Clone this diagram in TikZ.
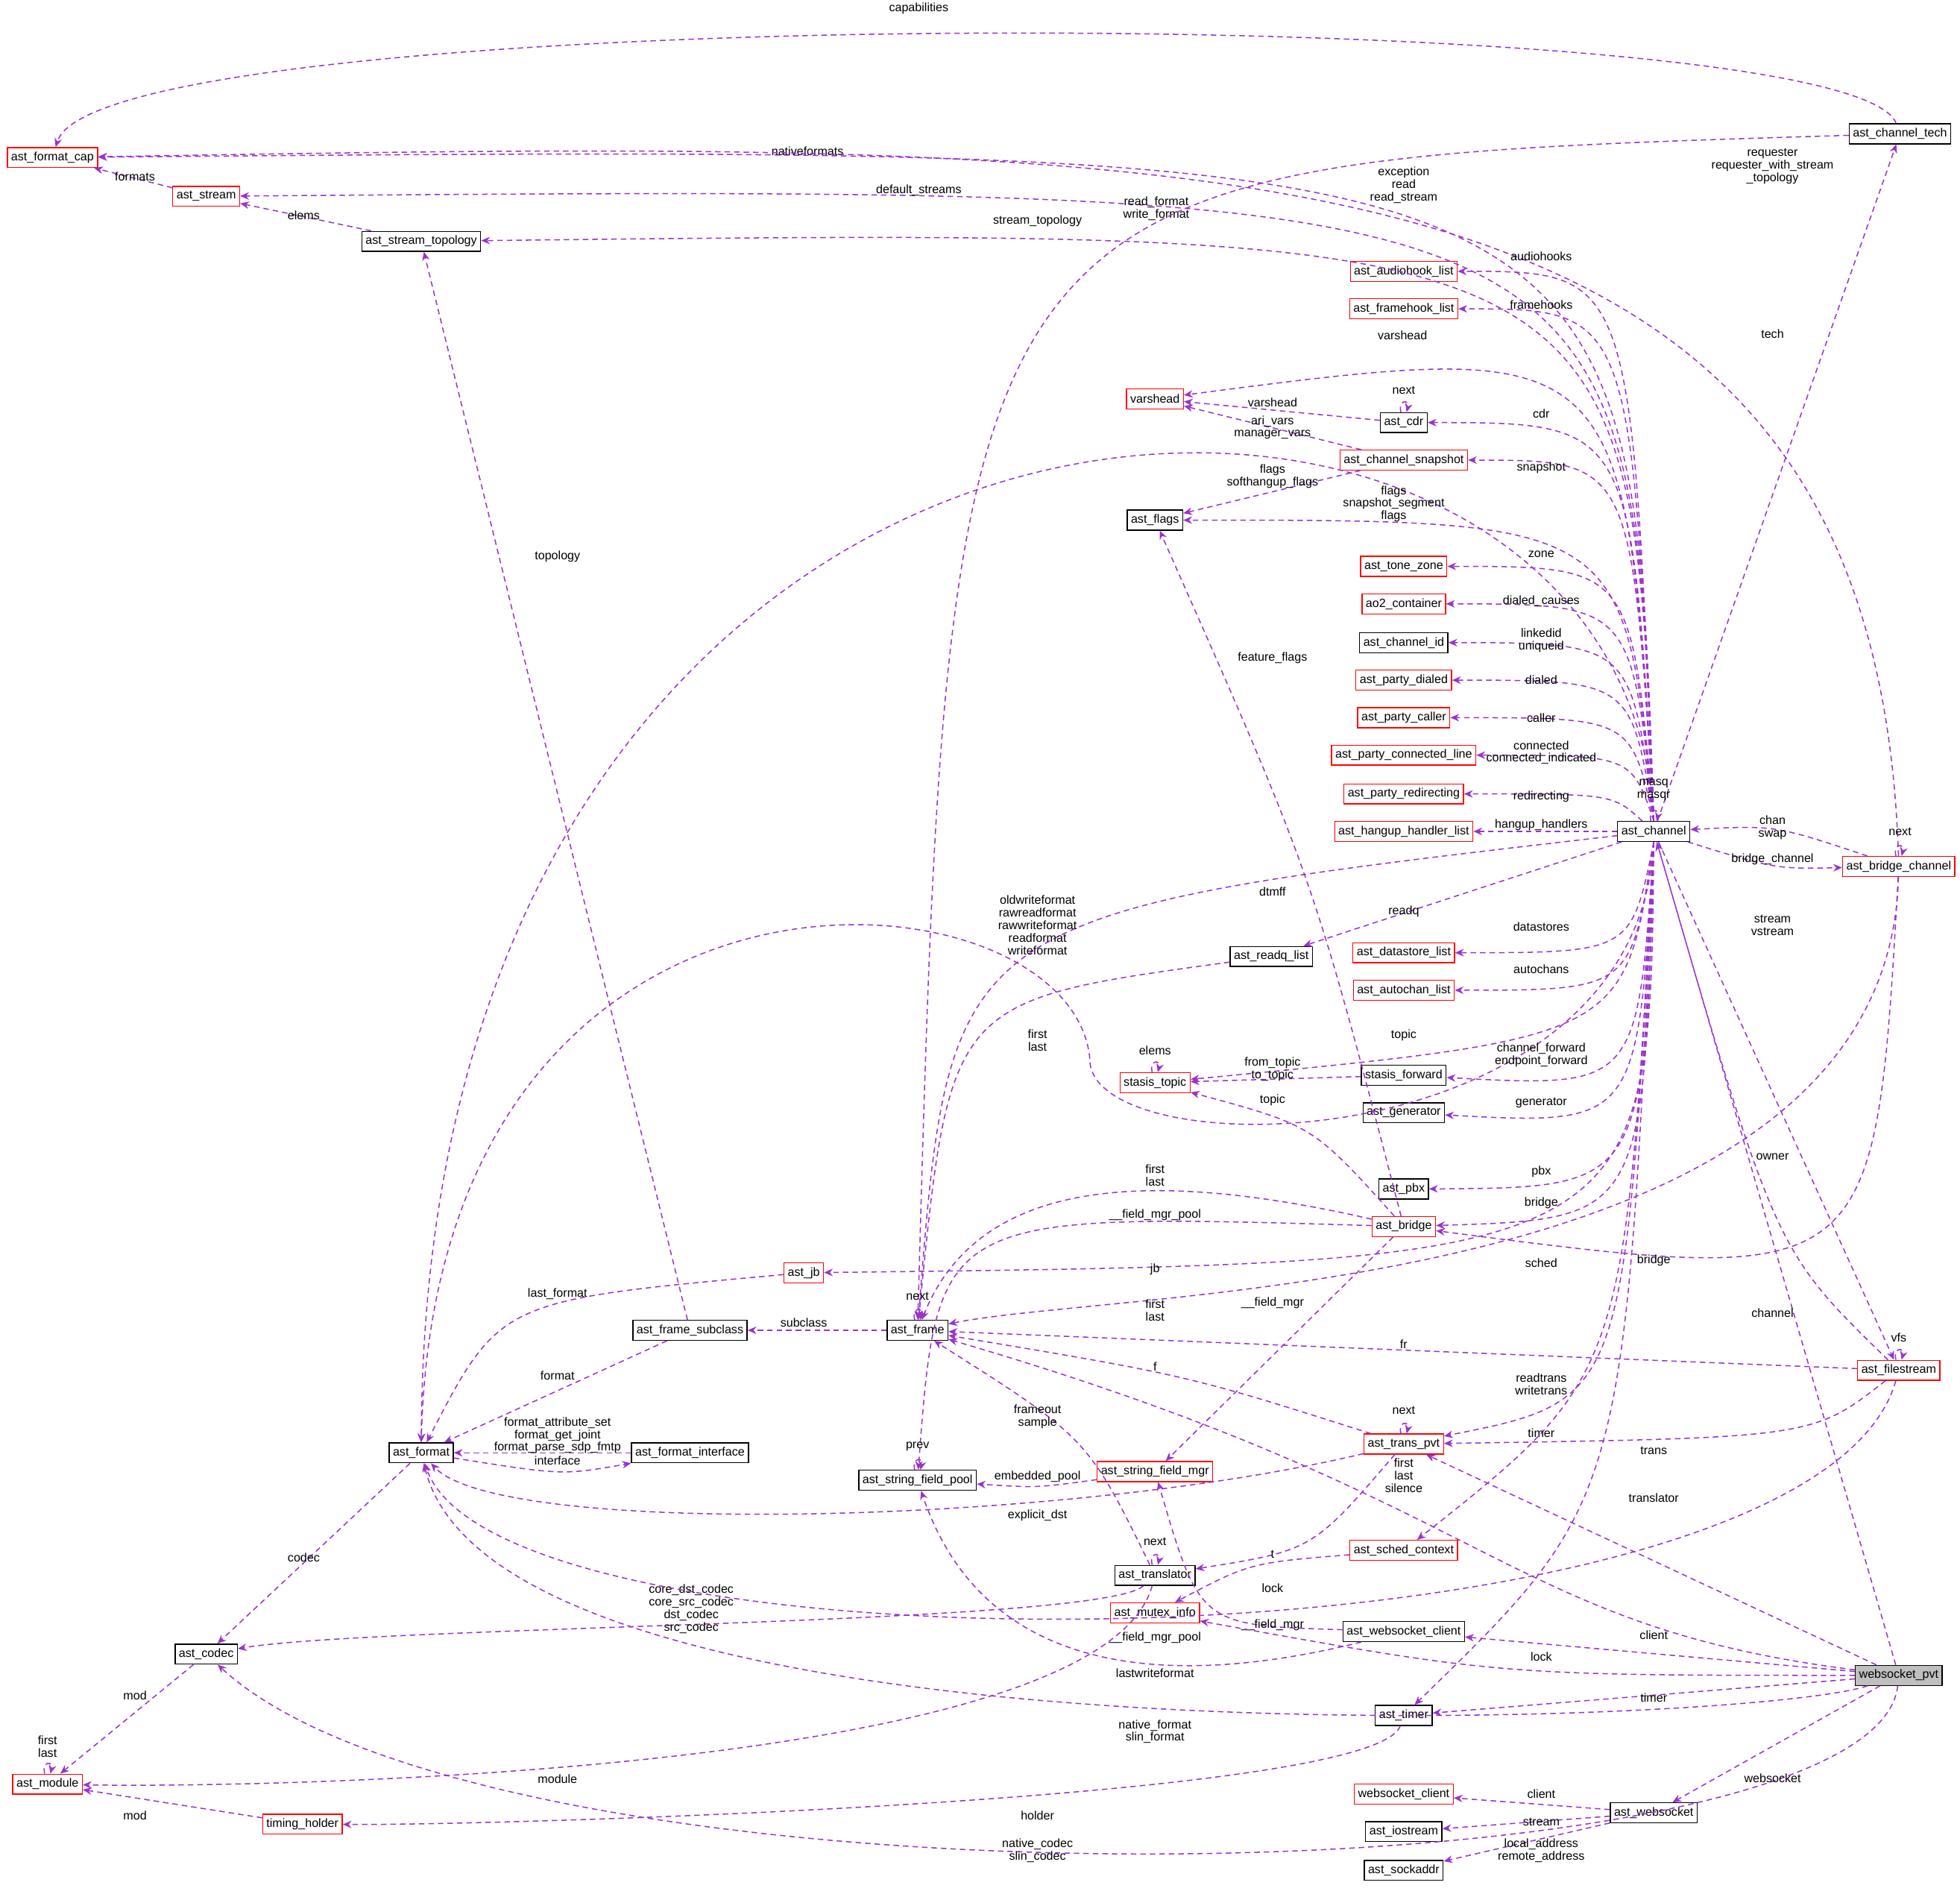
\documentclass[tikz,border=0pt]{standalone}
\usepackage{fontspec}
\setmainfont{Liberation Sans}
\usetikzlibrary{arrows.meta}
\definecolor{edgecol}{HTML}{9A32CD}
\tikzset{
  box/.style={draw=black, fill=white, inner sep=1.5pt, minimum height=8pt, font=\fontsize{4.8}{5.2}\selectfont},
  redbox/.style={box, draw=red},
  mainbox/.style={box, fill=black!25},
  edge/.style={draw=edgecol, dashed, dash pattern=on 2.2pt off 1.6pt, line width=0.45pt, -{Stealth[length=3.5pt,width=3pt]}},
  lbl/.style={align=center, inner sep=0pt, font=\fontsize{4.8}{5}\selectfont},
}
\newcommand\lab[2]{\node[lbl] at (#1) {#2};}
\begin{document}
\begin{tikzpicture}[x=0.5pt, y=-0.5pt]
\useasboundingbox (0,0) rectangle (1568,1517);
% nodes
\node[redbox] (fmtCap) at (42,126) {ast\_format\_cap};
\node[redbox] (stream) at (165,157) {ast\_stream};
\node[box] (streamTopo) at (337,193) {ast\_stream\_topology};
\node[box] (chanTech) at (1520,107) {ast\_channel\_tech};
\node[redbox] (audiohook) at (1123,217) {ast\_audiohook\_list};
\node[redbox] (framehook) at (1123,247) {ast\_framehook\_list};
\node[redbox] (varshead) at (924,319) {varshead};
\node[box] (cdr) at (1123,338) {ast\_cdr};
\node[redbox] (snapshot) at (1123,368) {ast\_channel\_snapshot};
\node[box] (flags) at (924,416) {ast\_flags};
\node[redbox] (toneZone) at (1123,453) {ast\_tone\_zone};
\node[redbox] (ao2) at (1123,483) {ao2\_container};
\node[box] (chanId) at (1123,514) {ast\_channel\_id};
\node[redbox] (dialed) at (1123,544) {ast\_party\_dialed};
\node[redbox] (caller) at (1123,574) {ast\_party\_caller};
\node[redbox] (connLine) at (1123,604) {ast\_party\_connected\_line};
\node[redbox] (redir) at (1123,635) {ast\_party\_redirecting};
\node[redbox] (hangup) at (1123,665) {ast\_hangup\_handler\_list};
\node[box] (chan) at (1323,665) {ast\_channel};
\node[redbox] (bridgeChan) at (1519,693) {ast\_bridge\_channel};
\node[box] (readq) at (1017,765) {ast\_readq\_list};
\node[redbox] (datastore) at (1123,762) {ast\_datastore\_list};
\node[redbox] (autochan) at (1123,792) {ast\_autochan\_list};
\node[redbox] (topic) at (924,866) {stasis\_topic};
\node[box] (forward) at (1123,860) {stasis\_forward};
\node[box] (generator) at (1123,890) {ast\_generator};
\node[box] (pbx) at (1123,951) {ast\_pbx};
\node[redbox] (bridge) at (1123,981) {ast\_bridge};
\node[redbox] (jb) at (643,1018) {ast\_jb};
\node[box] (frameSub) at (552,1064) {ast\_frame\_subclass};
\node[box] (frame) at (734,1064) {ast\_frame};
\node[redbox] (filestream) at (1519,1096) {ast\_filestream};
\node[box] (format) at (337,1162) {ast\_format};
\node[box] (fmtIface) at (552,1162) {ast\_format\_interface};
\node[redbox] (transPvt) at (1123,1155) {ast\_trans\_pvt};
\node[box] (sfPool) at (734,1184) {ast\_string\_field\_pool};
\node[redbox] (sfMgr) at (924,1177) {ast\_string\_field\_mgr};
\node[redbox] (sched) at (1123,1240) {ast\_sched\_context};
\node[box] (translator) at (924,1260) {ast\_translator};
\node[redbox] (mutex) at (924,1290) {ast\_mutex\_info};
\node[box] (wsClient) at (1123,1305) {ast\_websocket\_client};
\node[box] (codec) at (165,1323) {ast\_codec};
\node[mainbox] (wsPvt) at (1519,1340) {websocket\_pvt};
\node[box] (timer) at (1123,1372) {ast\_timer};
\node[redbox] (module) at (38,1427) {ast\_module};
\node[redbox] (timing) at (242,1459) {timing\_holder};
\node[redbox] (wsCli2) at (1123,1435) {websocket\_client};
\node[box] (websocket) at (1323,1450) {ast\_websocket};
\node[box] (iostream) at (1123,1465) {ast\_iostream};
\node[box] (sockaddr) at (1123,1496) {ast\_sockaddr};
% edges
\draw[edge] (chanTech) .. controls (1480,0) and (80,0) .. (fmtCap); \lab{735,7}{capabilities}
\draw[edge] (chan.north) .. controls (1305,115) .. (fmtCap); \lab{646,121}{nativeformats}
\draw[edge] (chan.north) .. controls (1305,148) .. (stream); \lab{735,152}{default\_streams}
\draw[edge] (stream) -- (fmtCap); \lab{108,141}{formats}
\draw[edge] (streamTopo) -- (stream); \lab{243,172}{elems}
\draw[edge] (chan.north) .. controls (1305,182) .. (streamTopo); \lab{830,177}{stream\_topology}
\draw[edge] (chan.north) .. controls (1300,200) and (340,210) .. (format); \lab{925,167}{read\_format\\write\_format}
\draw[edge] (chanTech) .. controls (760,130) .. (frame); \lab{1123,148}{exception\\read\\read\_stream}
\draw[edge] (chan) -- (chanTech); \lab{1418,267}{tech}
\draw[edge] (bridgeChan) .. controls (1500,100) and (1000,110) .. (fmtCap); \lab{1418,133}{requester\\requester\_with\_stream\\\_topology}
\draw[edge] (chan.north) .. controls (1305,217) .. (audiohook); \lab{1233,205}{audiohooks}
\draw[edge] (chan.north) .. controls (1305,247) .. (framehook); \lab{1233,244}{framehooks}
\draw[edge] (chan.north) .. controls (1300,270) .. (varshead); \lab{1122,268}{varshead}
\draw[edge] (cdr) -- (varshead); \lab{1018,322}{varshead}
\draw[edge] (cdr) to[loop above, looseness=6] (cdr); \lab{1123,312}{next}
\draw[edge] (chan.north) .. controls (1305,338) .. (cdr); \lab{1233,331}{cdr}
\draw[edge] (snapshot) -- (varshead); \lab{1018,342}{ari\_vars\\manager\_vars}
\draw[edge] (snapshot) -- (flags); \lab{1018,381}{flags\\softhangup\_flags}
\draw[edge] (chan.north) .. controls (1305,368) .. (snapshot); \lab{1233,374}{snapshot}
\draw[edge] (chan.north) .. controls (1300,416) .. (flags); \lab{1115,403}{flags\\snapshot\_segment\\flags}
\draw[edge] (chan.north) .. controls (1305,453) .. (toneZone); \lab{1233,443}{zone}
\draw[edge] (chan.north) .. controls (1305,483) .. (ao2); \lab{1233,481}{dialed\_causes}
\draw[edge] (chan.north) .. controls (1305,514) .. (chanId); \lab{1233,512}{linkedid\\uniqueid}
\draw[edge] (chan.north) .. controls (1305,544) .. (dialed); \lab{1233,544}{dialed}
\draw[edge] (chan.north) .. controls (1305,574) .. (caller); \lab{1233,574}{caller}
\draw[edge] (chan.north) .. controls (1305,604) .. (connLine); \lab{1233,602}{connected\\connected\_indicated}
\draw[edge] (chan) .. controls (1290,635) .. (redir); \lab{1233,637}{redirecting}
\draw[edge] (chan) -- (hangup); \lab{1233,660}{hangup\_handlers}
\draw[edge] (chan) to[loop above, looseness=6] (chan); \lab{1323,632}{masq\\masqr}
\draw[edge] (bridgeChan) .. controls (1420,660) .. (chan); \lab{1418,662}{chan\\swap}
\draw[edge] (chan) .. controls (1420,695) .. (bridgeChan); \lab{1418,687}{bridge\_channel}
\draw[edge] (bridgeChan) to[loop above, looseness=6] (bridgeChan); \lab{1520,665}{next}
\draw[edge] (chan) .. controls (760,730) .. (frame); \lab{1018,713}{dtmff}
\draw[edge] (chan.south) .. controls (1310,930) and (880,935) .. (872,850) .. controls (865,690) and (350,640) .. (format.north); \lab{830,740}{oldwriteformat\\rawreadformat\\rawwriteformat\\readformat\\writeformat}
\draw[edge] (chan) -- (readq); \lab{1123,729}{readq}
\draw[edge] (readq) .. controls (760,800) .. (frame); \lab{830,832}{first\\last}
\draw[edge] (chan.south) .. controls (1305,762) .. (datastore); \lab{1233,741}{datastores}
\draw[edge] (chan.south) .. controls (1305,792) .. (autochan); \lab{1233,775}{autochans}
\draw[edge] (chan.south) .. controls (1300,830) .. (topic); \lab{1123,828}{topic}
\draw[edge] (topic) to[loop above, looseness=6] (topic); \lab{924,840}{elems}
\draw[edge] (forward) -- (topic); \lab{1018,855}{from\_topic\\to\_topic}
\draw[edge] (chan.south) .. controls (1310,870) .. (forward); \lab{1233,844}{channel\_forward\\endpoint\_forward}
\draw[edge] (chan.south) .. controls (1310,900) .. (generator); \lab{1233,882}{generator}
\draw[edge] (chan.south) .. controls (1315,950) .. (pbx); \lab{1233,937}{pbx}
\draw[edge] (chan.south) .. controls (1315,975) .. (bridge); \lab{1233,962}{bridge}
\draw[edge] (bridge) .. controls (1050,900) .. (topic); \lab{1018,880}{topic}
\draw[edge] (bridge) .. controls (1050,700) .. (flags); \lab{1018,526}{feature\_flags}
\draw[edge] (bridge) .. controls (900,930) and (780,950) .. (frame); \lab{924,940}{first\\last}
\draw[edge] (bridge) .. controls (750,970) .. (sfPool); \lab{924,972}{\_\_field\_mgr\_pool}
\draw[edge] (bridge) -- (sfMgr); \lab{1018,1042}{\_\_field\_mgr}
\draw[edge] (chan.south) .. controls (1320,1010) .. (jb); \lab{924,1015}{jb}
\draw[edge] (bridgeChan) .. controls (1500,1030) .. (bridge); \lab{1323,1008}{bridge}
\draw[edge] (chan.south) .. controls (1300,1100) .. (sched); \lab{1233,1010}{sched}
\draw[edge] (bridgeChan) .. controls (1510,1040) and (900,1030) .. (frame); \lab{924,1048}{first\\last}
\draw[edge] (jb) .. controls (400,1040) .. (format); \lab{446,1035}{last\_format}
\draw[edge] (frame) to[loop above, looseness=6] (frame); \lab{734,1037}{next}
\draw[edge] (frame) -- (frameSub); \lab{643,1058}{subclass}
\draw[edge] (frameSub) -- (streamTopo); \lab{446,445}{topology}
\draw[edge] (frameSub) -- (format); \lab{446,1100}{format}
\draw[edge] (filestream) -- (frame); \lab{1123,1075}{fr}
\draw[edge] (filestream) to[loop above, looseness=6] (filestream); \lab{1519,1070}{vfs}
\draw[edge] (chan) -- (filestream); \lab{1418,740}{stream\\vstream}
\draw[edge] (filestream) .. controls (1420,1000) .. (chan); \lab{1418,925}{owner}
\draw[edge] (transPvt) .. controls (950,1100) .. (frame); \lab{924,1093}{f}
\draw[edge] (transPvt) to[loop above, looseness=6] (transPvt); \lab{1123,1128}{next}
\draw[edge] (chan.south) .. controls (1300,1120) .. (transPvt); \lab{1233,1107}{readtrans\\writetrans}
\draw[edge] (filestream) .. controls (1450,1150) .. (transPvt); \lab{1323,1160}{trans}
\draw[edge] (transPvt) .. controls (850,1220) and (400,1230) .. (format); \lab{830,1212}{explicit\_dst}
\draw[edge] (transPvt) .. controls (1050,1240) .. (translator); \lab{1018,1243}{t}
\draw[edge] (fmtIface) -- (format); \lab{446,1148}{format\_attribute\_set\\format\_get\_joint\\format\_parse\_sdp\_fmtp}
\draw[edge] (format) .. controls (450,1180) .. (fmtIface); \lab{446,1168}{interface}
\draw[edge] (format) -- (codec); \lab{243,1246}{codec}
\draw[edge] (sfPool) to[loop above, looseness=6] (sfPool); \lab{734,1157}{prev}
\draw[edge] (sfMgr) .. controls (830,1190) .. (sfPool); \lab{830,1181}{embedded\_pool}
\draw[edge] (translator) .. controls (870,1150) .. (frame); \lab{830,1133}{frameout\\sample}
\draw[edge] (translator) to[loop above, looseness=6] (translator); \lab{924,1233}{next}
\draw[edge] (translator) .. controls (880,1300) and (300,1300) .. (codec); \lab{553,1287}{core\_dst\_codec\\core\_src\_codec\\dst\_codec\\src\_codec}
\draw[edge] (translator) .. controls (880,1420) and (200,1430) .. (module); \lab{446,1423}{module}
\draw[edge] (codec) -- (module); \lab{108,1356}{mod}
\draw[edge] (module) to[loop above, looseness=6] (module); \lab{38,1397}{first\\last}
\draw[edge] (timing) -- (module); \lab{108,1452}{mod}
\draw[edge] (timer) .. controls (1100,1440) and (400,1460) .. (timing); \lab{830,1452}{holder}
\draw[edge] (chan.south) .. controls (1300,1200) .. (timer); \lab{1233,1146}{timer}
\draw[edge] (sched) .. controls (1000,1250) .. (mutex); \lab{1018,1270}{lock}
\draw[edge] (wsClient) .. controls (960,1300) .. (sfMgr); \lab{1018,1300}{\_\_field\_mgr}
\draw[edge] (wsClient) .. controls (900,1360) and (780,1320) .. (sfPool); \lab{924,1310}{\_\_field\_mgr\_pool}
\draw[edge] (wsPvt) -- (wsClient); \lab{1323,1308}{client}
\draw[edge] (wsPvt) .. controls (1200,1340) .. (mutex); \lab{1233,1325}{lock}
\draw[edge] (wsPvt) -- (timer); \lab{1323,1358}{timer}
\draw[edge] (wsPvt) .. controls (1400,1380) and (400,1420) .. (format); \lab{924,1385}{native\_format\\slin\_format}
\draw[edge] (wsPvt) .. controls (1500,1520) and (400,1540) .. (codec); \lab{830,1480}{native\_codec\\slin\_codec}
\draw[edge] (wsPvt) -- (websocket); \lab{1418,1422}{websocket}
\draw[edge] (wsPvt) -- (chan); \lab{1418,1050}{channel}
\draw[edge] (wsPvt) -- (transPvt); \lab{1323,1198}{translator}
\draw[edge] (wsPvt) .. controls (1200,1300) and (1200,1200) .. (frame); \lab{1123,1180}{first\\last\\silence}
\draw[edge] (filestream) .. controls (1450,1340) and (400,1350) .. (format); \lab{924,1338}{lastwriteformat}
\draw[edge] (websocket) -- (wsCli2); \lab{1233,1435}{client}
\draw[edge] (websocket) -- (iostream); \lab{1233,1457}{stream}
\draw[edge] (websocket) -- (sockaddr); \lab{1233,1480}{local\_address\\remote\_address}
\end{tikzpicture}
\end{document}
